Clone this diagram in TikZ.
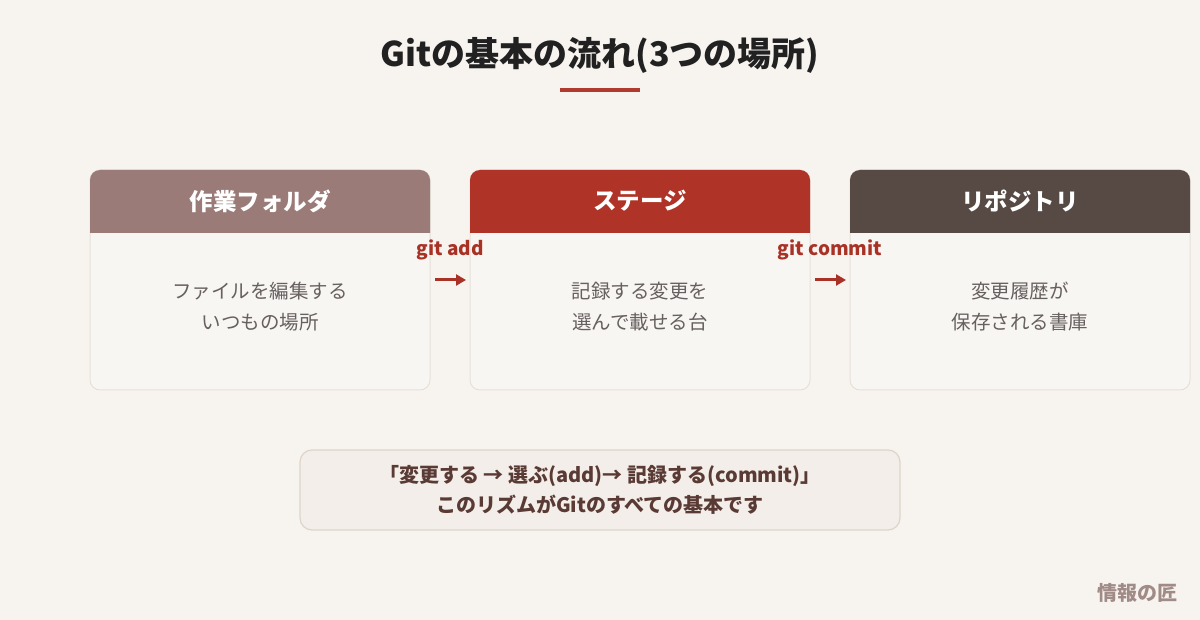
\documentclass[tikz,border=0pt]{standalone}
\usepackage{fontspec}
\setmainfont{Noto Sans CJK JP}
\usetikzlibrary{arrows.meta}
\definecolor{bg}{HTML}{F7F4F0}
\definecolor{bodyfill}{HTML}{F8F6F3}
\definecolor{bodyline}{HTML}{E6E0D8}
\definecolor{hdrA}{HTML}{9A7B78}
\definecolor{hdrB}{HTML}{B03327}
\definecolor{hdrC}{HTML}{574A44}
\definecolor{accent}{HTML}{B03A2E}
\definecolor{labred}{HTML}{A93226}
\definecolor{bodytxt}{HTML}{666060}
\definecolor{notefill}{HTML}{F3EEE9}
\definecolor{noteline}{HTML}{DDD5C8}
\definecolor{notetxt}{HTML}{5A3A34}
\definecolor{wm}{HTML}{A08B87}
\tikzset{
  card/.style={draw=bodyline, line width=1pt, fill=bodyfill, rounded corners=10pt},
  hdrtext/.style={text=white, font=\fontsize{23.5}{28}\selectfont\bfseries},
  bodytext/.style={text=bodytxt, font=\fontsize{19.5}{31}\selectfont, align=center},
  gitlab/.style={text=labred, font=\fontsize{19}{22}\selectfont\bfseries},
  flow/.style={draw=labred, line width=3pt, -{Triangle[length=10pt,width=11pt]}},
}
\begin{document}
\begin{tikzpicture}[x=1pt,y=-1pt]
\fill[bg] (0,0) rectangle (1200,620);
\useasboundingbox (0,0) rectangle (1200,620);
\node[text=black!87, font=\fontsize{34}{40}\selectfont\bfseries] (title) at (600,55) {Gitの基本の流れ(3つの場所)};
\draw[accent, line width=4pt] (560,90) -- (640,90);
% cards
\foreach \x/\c in {90/hdrA,470/hdrB,850/hdrC}{
  \draw[card] (\x,170) rectangle ++(340,220);
  \fill[\c, rounded corners=10pt] (\x,170) rectangle ++(340,63) [sharp corners] (\x,210) rectangle ++(340,23);
}
\node[hdrtext] (hA) at (260,201) {作業フォルダ};
\node[hdrtext] (hB) at (640,201) {ステージ};
\node[hdrtext] (hC) at (1020,201) {リポジトリ};
\node[bodytext] (bA) at (260,307) {ファイルを編集する\\いつもの場所};
\node[bodytext] (bB) at (640,307) {記録する変更を\\選んで載せる台};
\node[bodytext] (bC) at (1020,307) {変更履歴が\\保存される書庫};
\node[gitlab] (lA) at (450,250) {git add};
\node[gitlab] (lB) at (830,250) {git commit};
\coordinate (a1) at (435,280);
\coordinate (a2) at (466,280);
\coordinate (b1) at (815,280);
\coordinate (b2) at (846,280);
\draw[flow] (a1) -- (a2);
\draw[flow] (b1) -- (b2);
\draw[draw=noteline, line width=1.2pt, fill=notefill, rounded corners=12pt] (300,450) rectangle (900,530);
\node[text=notetxt, font=\fontsize{20}{30}\selectfont\bfseries, align=center] (note) at (600,490) {「変更する → 選ぶ(add)→ 記録する(commit)」\\このリズムがGitのすべての基本です};
\node[text=wm, font=\fontsize{20}{24}\selectfont\bfseries] (wmk) at (1137,593) {情報の匠};
\end{tikzpicture}
\end{document}
